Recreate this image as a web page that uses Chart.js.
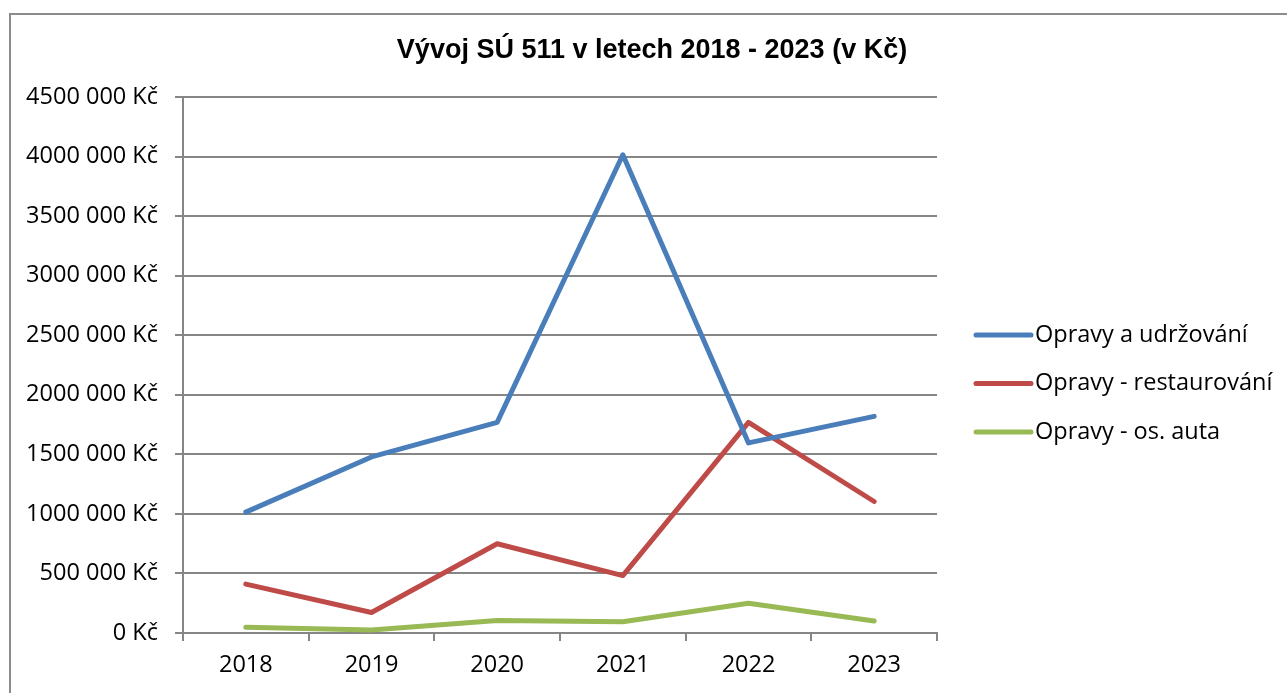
<!DOCTYPE html>
<html>
<head>
<meta charset="utf-8">
<script src="https://cdn.jsdelivr.net/npm/chart.js@4"></script>
<style>
    html, body { margin: 0; padding: 0; background: #fff; overflow: hidden; }
    #frame {
        position: absolute; left: 9px; top: 13px; width: 2000px; height: 2000px;
        border-left: 2px solid #8c8c8c; border-top: 2px solid #8c8c8c;
    }
    #wrap { position: absolute; left: 0; top: 0; width: 1287px; height: 693px; }
</style>
</head>
<body>
<div id="frame"></div>
<div id="wrap"><canvas id="costChart"></canvas></div>
<script>
// Data
const years = ['2018', '2019', '2020', '2021', '2022', '2023'];
const opravyUdrzovani = [1015000, 1478000, 1768000, 4015000, 1596000, 1819000];
const opravyRestaurovani = [410000, 172000, 749000, 482000, 1769000, 1104000];
const opravyAuta = [48000, 25000, 104000, 95000, 250000, 101000];
const seriesNames = ['Opravy a udržování', 'Opravy - restaurování', 'Opravy - os. auta'];
const yTickLabels = ['0 Kč', '500 000 Kč', '1000 000 Kč', '1500 000 Kč', '2000 000 Kč',
    '2500 000 Kč', '3000 000 Kč', '3500 000 Kč', '4000 000 Kč', '4500 000 Kč'];
const chartTitle = 'Vývoj SÚ 511 v letech 2018 - 2023 (v Kč)';

const seriesColors = ['#4a7ebb', '#be4b48', '#98b954'];
const gridColor = '#868686';
const labelFont = { family: '"Open Sans", sans-serif', size: 23.5 };

// Title and legend drawn on the canvas
const titleLegendPlugin = {
    id: 'titleLegend',
    afterDraw(chart) {
        const ctx = chart.ctx;
        const area = chart.chartArea;
        ctx.save();
        ctx.fillStyle = '#000';
        ctx.font = 'bold 27px "Liberation Sans", Arial, sans-serif';
        ctx.textAlign = 'center';
        ctx.textBaseline = 'alphabetic';
        ctx.fillText(chartTitle, 652, 58);

        ctx.font = '23.5px "Open Sans", sans-serif';
        ctx.textAlign = 'left';
        ctx.textBaseline = 'middle';
        chart.data.datasets.forEach((ds, i) => {
            const y = 335 + i * 48.5;
            const x0 = area.right + 39;
            ctx.strokeStyle = ds.borderColor;
            ctx.lineWidth = 5;
            ctx.lineCap = 'round';
            ctx.beginPath();
            ctx.moveTo(x0, y);
            ctx.lineTo(x0 + 55, y);
            ctx.stroke();
            ctx.fillText(ds.label, x0 + 59, y);
        });
        ctx.restore();
    }
};

function makeDataset(label, data, color) {
    return {
        label: label,
        data: data,
        borderColor: color,
        backgroundColor: color,
        borderWidth: 5,
        borderCapStyle: 'round',
        borderJoinStyle: 'round',
        pointRadius: 0,
        tension: 0,
        fill: false
    };
}

new Chart(document.getElementById('costChart').getContext('2d'), {
    type: 'line',
    data: {
        labels: years,
        datasets: [
            makeDataset(seriesNames[0], opravyUdrzovani, seriesColors[0]),
            makeDataset(seriesNames[1], opravyRestaurovani, seriesColors[1]),
            makeDataset(seriesNames[2], opravyAuta, seriesColors[2])
        ]
    },
    options: {
        responsive: true,
        maintainAspectRatio: false,
        animation: false,
        layout: {
            padding: { left: 10, top: 97, right: 350, bottom: 0 }
        },
        plugins: {
            legend: { display: false },
            title: { display: false },
            tooltip: { enabled: false }
        },
        scales: {
            x: {
                offset: true,
                grid: {
                    offset: true,
                    drawOnChartArea: false,
                    drawTicks: true,
                    tickLength: 8,
                    color: gridColor,
                    lineWidth: 2
                },
                border: { display: true, color: gridColor, width: 2 },
                ticks: { color: '#000', font: labelFont, padding: 10, maxRotation: 0 },
                afterFit: scale => { scale.height = 60; }
            },
            y: {
                min: 0,
                max: 4500000,
                ticks: {
                    stepSize: 500000,
                    color: '#000',
                    font: labelFont,
                    padding: 17,
                    callback: (value, index) => yTickLabels[index]
                },
                grid: {
                    color: gridColor,
                    lineWidth: 2,
                    tickLength: 8,
                    drawTicks: true
                },
                border: { display: true, color: gridColor, width: 2 },
                afterFit: scale => { scale.width = 173; }
            }
        }
    },
    plugins: [titleLegendPlugin]
});
</script>
</body>
</html>
